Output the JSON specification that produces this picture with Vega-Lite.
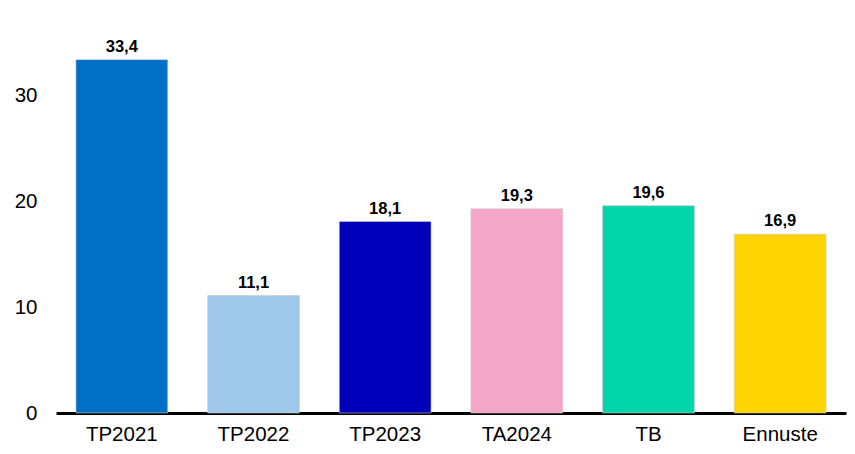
{
  "$schema": "https://vega.github.io/schema/vega-lite/v6.json",
  "width": 790,
  "height": 402,
  "autosize": {"type": "none"},
  "padding": {"left": 56, "top": 11, "right": 9, "bottom": 41},
  "background": "white",
  "data": {
    "values": [
      {"cat": "TP2021", "value": 33.4, "label": "33,4"},
      {"cat": "TP2022", "value": 11.1, "label": "11,1"},
      {"cat": "TP2023", "value": 18.1, "label": "18,1"},
      {"cat": "TA2024", "value": 19.3, "label": "19,3"},
      {"cat": "TB", "value": 19.6, "label": "19,6"},
      {"cat": "Ennuste", "value": 16.9, "label": "16,9"}
    ]
  },
  "encoding": {
    "x": {
      "field": "cat", "type": "nominal", "sort": null,
      "scale": {"paddingInner": 0.303, "paddingOuter": 0.1515},
      "axis": {
        "title": null, "labelAngle": 0, "ticks": false,
        "domainColor": "black", "domainWidth": 3,
        "labelFont": "Liberation Sans", "labelFontSize": 20.5, "labelColor": "black",
        "labelPadding": 11
      }
    },
    "y": {
      "field": "value", "type": "quantitative",
      "scale": {"domain": [0, 38], "nice": false},
      "axis": {
        "title": null, "values": [0, 10, 20, 30], "grid": false, "domain": false, "ticks": false,
        "labelFont": "Liberation Sans", "labelFontSize": 20.5, "labelColor": "black",
        "labelPadding": 19
      }
    }
  },
  "layer": [
    {
      "mark": {"type": "bar", "stroke": "#c8c8c8", "strokeWidth": 0.6},
      "encoding": {
        "color": {
          "field": "cat", "type": "nominal", "legend": null,
          "scale": {
            "domain": ["TP2021", "TP2022", "TP2023", "TA2024", "TB", "Ennuste"],
            "range": ["#0070C6", "#A0C8EA", "#0000BB", "#F4A6C8", "#00D5A8", "#FFD400"]
          }
        }
      }
    },
    {
      "mark": {"type": "text", "baseline": "bottom", "dy": -5, "font": "Liberation Sans", "fontSize": 16.5, "fontWeight": "bold", "color": "black"},
      "encoding": {"text": {"field": "label"}}
    }
  ],
  "config": {"view": {"stroke": null}}
}
